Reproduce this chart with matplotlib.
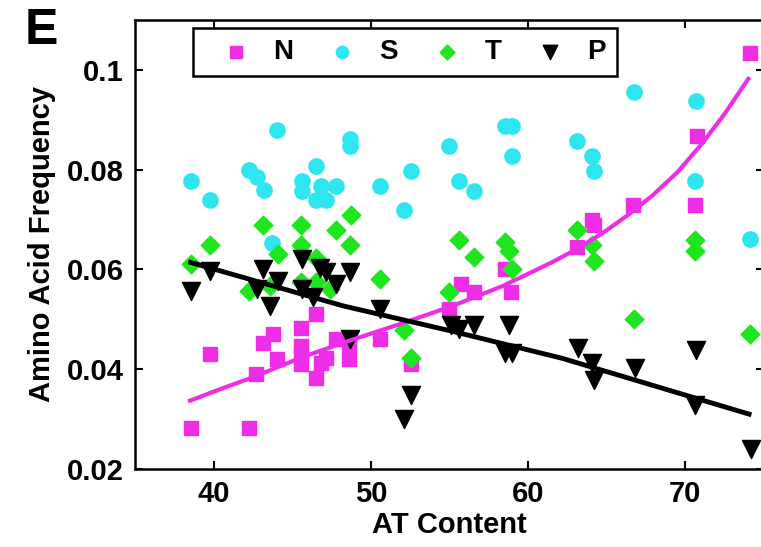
import matplotlib
matplotlib.use("Agg")
import matplotlib.pyplot as plt

plt.rcParams["font.family"] = ["Liberation Sans", "DejaVu Sans"]
plt.rcParams["font.weight"] = "bold"

# N (squares)
n_x = [38.56, 39.75, 42.26, 42.70, 43.16, 43.75, 44.05, 45.55, 45.55, 45.55, 45.55,
       46.54, 46.54, 46.85, 47.17, 47.77, 48.64, 48.64, 50.61, 52.55, 54.94, 55.72,
       56.56, 58.50, 58.94, 63.10, 64.05, 64.22, 66.69, 70.63, 70.76, 74.13]
n_y = [0.0283, 0.0430, 0.0283, 0.0390, 0.0452, 0.0471, 0.0420, 0.0483, 0.0446, 0.0428, 0.0410,
       0.0511, 0.0382, 0.0412, 0.0422, 0.0461, 0.0448, 0.0420, 0.0461, 0.0410, 0.0521, 0.0570,
       0.0554, 0.0600, 0.0554, 0.0644, 0.0699, 0.0689, 0.0729, 0.0729, 0.0867, 0.1034]

# S (circles)
s_x = [38.53, 39.75, 42.22, 42.74, 43.23, 44.05, 43.69, 45.59, 45.59, 46.50, 46.85,
       47.77, 46.50, 47.17, 48.70, 48.70, 50.61, 52.55, 52.13, 54.98, 55.61, 56.56,
       58.56, 58.99, 58.99, 63.10, 64.05, 64.22, 66.75, 70.70, 70.63, 74.13]
s_y = [0.0778, 0.0739, 0.0800, 0.0786, 0.0760, 0.0879, 0.0653, 0.0778, 0.0758, 0.0808, 0.0768,
       0.0768, 0.0739, 0.0739, 0.0861, 0.0848, 0.0768, 0.0798, 0.0719, 0.0848, 0.0778, 0.0758,
       0.0887, 0.0887, 0.0828, 0.0857, 0.0828, 0.0798, 0.0956, 0.0937, 0.0777, 0.0661]

# T (diamonds)
t_x = [38.53, 39.75, 42.22, 43.16, 43.59, 44.11, 45.55, 45.55, 45.55, 46.54, 46.54,
       47.39, 47.80, 48.65, 48.75, 50.61, 52.13, 52.55, 54.94, 55.61, 56.56, 58.56,
       58.78, 58.99, 63.10, 64.05, 64.22, 66.75, 70.63, 70.63, 74.13]
t_y = [0.0610, 0.0650, 0.0557, 0.0689, 0.0567, 0.0630, 0.0689, 0.0650, 0.0574, 0.0623, 0.0574,
       0.0560, 0.0680, 0.0650, 0.0709, 0.0580, 0.0478, 0.0423, 0.0554, 0.0660, 0.0624, 0.0656,
       0.0636, 0.0600, 0.0679, 0.0650, 0.0616, 0.0500, 0.0660, 0.0636, 0.0471]

# P (down triangles)
p_x = [38.56, 39.75, 42.74, 43.16, 43.59, 44.11, 45.59, 45.59, 46.33, 46.75, 47.17,
       47.80, 48.65, 48.65, 50.61, 52.55, 52.13, 55.08, 55.61, 56.56, 58.78, 58.56,
       58.99, 63.16, 64.05, 64.22, 66.79, 70.70, 70.63, 74.18]
p_y = [0.0557, 0.0597, 0.0560, 0.0600, 0.0527, 0.0577, 0.0620, 0.0560, 0.0545, 0.0603, 0.0594,
       0.0570, 0.0594, 0.0461, 0.0521, 0.0349, 0.0300, 0.0488, 0.0481, 0.0488, 0.0488, 0.0432,
       0.0432, 0.0442, 0.0412, 0.0379, 0.0402, 0.0438, 0.0329, 0.0240]

# fitted curves
n_fit_x = [38.5, 40.5, 42.5, 45.7, 48.9, 52.0, 55.2, 58.4, 61.5, 63.1, 64.7, 66.3,
           67.9, 69.5, 71.0, 72.5, 74.0]
n_fit_y = [0.0337, 0.0361, 0.0384, 0.0425, 0.0460, 0.0492, 0.0527, 0.0567, 0.0614, 0.0641,
           0.0672, 0.0708, 0.0748, 0.0795, 0.0850, 0.0912, 0.0982]
p_fit_x = [38.54, 48.23, 55.19, 62.15, 74.05]
p_fit_y = [0.0614, 0.0527, 0.0476, 0.0422, 0.0310]

fig = plt.figure(figsize=(7.61, 5.47), dpi=100)
ax = fig.add_axes([135 / 761, 78 / 547, 629 / 761, 449 / 547])

ax.scatter(n_x, n_y, marker="s", s=100, color="#ee2ee6", label="N", zorder=3)
ax.scatter(s_x, s_y, marker="o", s=121, color="#2ee6f0", label="S", zorder=3)
ax.scatter(t_x, t_y, marker="D", s=90, color="#1ee61e", label="T", zorder=3)
ax.scatter(p_x, p_y, marker="v", s=169, color="black", label="P", zorder=3)

ax.plot(n_fit_x, n_fit_y, color="#ee2ee6", lw=3, zorder=4)
ax.plot(p_fit_x, p_fit_y, color="black", lw=3.5, zorder=4)

ax.set_xlim(35, 75)
ax.set_ylim(0.02, 0.11)
ax.set_xticks([40, 50, 60, 70])
ax.set_yticks([0.02, 0.04, 0.06, 0.08, 0.1])
ax.set_yticklabels(["0.02", "0.04", "0.06", "0.08", "0.1"])
ax.tick_params(direction="in", length=6, width=1.5, labelsize=21,
               top=True, right=True, pad=8)
for sp in ax.spines.values():
    sp.set_linewidth(1.8)

ax.set_xlabel("AT Content", fontsize=21, fontweight="bold", labelpad=2)
ax.set_ylabel("Amino Acid Frequency", fontsize=21, fontweight="bold", labelpad=8)

leg = ax.legend(loc="upper left", bbox_to_anchor=(0.092, 0.982), borderaxespad=0,
                ncol=4, fontsize=20, frameon=True, fancybox=False, edgecolor="black",
                framealpha=1, handlelength=2.3, handletextpad=0.2, columnspacing=0.6,
                borderpad=0.4, scatterpoints=1, markerscale=0.8)
leg.get_frame().set_linewidth(1.8)
for txt in leg.get_texts():
    txt.set_fontweight("bold")

fig.text(25 / 761, 1 - 8 / 547, "E", fontsize=36, fontweight="bold", va="top", ha="left")

fig.savefig("out.png", dpi=100)
